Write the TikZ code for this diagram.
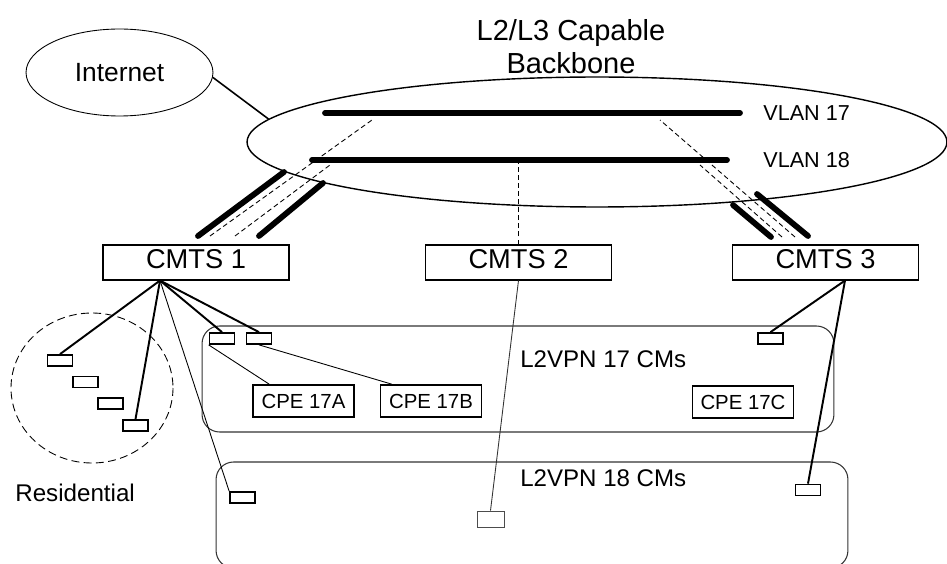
\documentclass[tikz,border=0pt]{standalone}
\usepackage{fontspec}
\setmainfont{Liberation Sans}
\usetikzlibrary{shapes.geometric}

\begin{document}
\begin{tikzpicture}[x=0.02cm, y=-0.02cm,
  cmts/.style={draw, line width=0.6pt, minimum width=3.72cm, minimum height=0.7cm,
    inner sep=0pt, text depth=4pt, font=\fontsize{15.5}{18}\selectfont},
  modem/.style={draw, line width=1pt, minimum width=0.5cm, minimum height=0.22cm, inner sep=0pt},
  cpe/.style={draw, line width=1pt, minimum width=2.02cm, minimum height=0.64cm,
    inner sep=0pt, font=\fontsize{11.6}{14}\selectfont},
  vpnbox/.style={draw=black!80, line width=0.6pt, rounded corners=0.35cm,
    minimum width=12.64cm, inner sep=0pt},
  lbl/.style={anchor=west, inner sep=0pt},
  vlan/.style={line width=3.3pt, line cap=round},
  trunk/.style={line width=3.3pt, line cap=round},
  tagged/.style={line width=0.5pt, dash pattern=on 2.8pt off 1.8pt},
  feed/.style={line width=1.1pt},
  thinfeed/.style={line width=0.5pt}]
  \useasboundingbox (0,0) rectangle (947,564);

  % Backbone
  \node[ellipse, draw, line width=0.8pt, minimum width=14cm, minimum height=2.6cm] (bb) at (597,142) {};
  \node[anchor=north, align=center, inner sep=0pt, font=\fontsize{16.5}{19}\selectfont] (title) at (571,19)
    {L2/L3 Capable\\Backbone};
  \node[ellipse, draw, line width=0.5pt, minimum width=3.74cm, minimum height=1.74cm,
    font=\fontsize{15}{18}\selectfont] (inet) at (119.5,72.5) {Internet};
  \draw[line width=0.9pt] (inet.-3) -- (bb.176);

  % VLANs
  \coordinate (v17w) at (325,113);
  \coordinate (v17e) at (740,113);
  \coordinate (v18w) at (312,160);
  \coordinate (v18e) at (727,160);
  \draw[vlan] (v17w) -- (v17e);
  \draw[vlan] (v18w) -- (v18e);
  \node[lbl, font=\fontsize{12.3}{14}\selectfont] (l17) at (763,113) {VLAN 17};
  \node[lbl, font=\fontsize{12.3}{14}\selectfont] (l18) at (763,160) {VLAN 18};

  % CMTS
  \node[cmts] (cmts1) at (196,262.5) {CMTS 1};
  \node[cmts] (cmts2) at (518.5,262.5) {CMTS 2};
  \node[cmts] (cmts3) at (825.5,262.5) {CMTS 3};
  \coordinate (fan1) at ([xshift=-0.72cm]cmts1.south);
  \coordinate (fan3) at ([xshift=0.39cm]cmts3.south);

  % Trunks to the backbone
  \coordinate (t1a) at (198,236); \coordinate (t1b) at (284,172);
  \coordinate (t2a) at (259,236); \coordinate (t2b) at (323,183);
  \coordinate (d1a) at (210,236); \coordinate (d1b) at (372,120);
  \coordinate (d2a) at (235,236); \coordinate (d2b) at (330,165);
  \coordinate (t3a) at (771,237); \coordinate (t3b) at (733,205);
  \coordinate (t4a) at (808,236); \coordinate (t4b) at (757,194);
  \coordinate (d3a) at (795,237); \coordinate (d3b) at (660,120);
  \coordinate (d4a) at (782,237); \coordinate (d4b) at (700,165);
  \draw[trunk] (t1a) -- (t1b);
  \draw[trunk] (t2a) -- (t2b);
  \draw[trunk] (t3a) -- (t3b);
  \draw[trunk] (t4a) -- (t4b);
  \draw[tagged] (d1a) -- (d1b);
  \draw[tagged] (d2a) -- (d2b);
  \draw[tagged] (d3a) -- (d3b);
  \draw[tagged] (d4a) -- (d4b);
  \draw[tagged] (cmts2.north) -- (cmts2.north |- v18w);

  % L2VPN groups
  \node[vpnbox, minimum height=2.12cm] (vpn17) at (518,379) {};
  \node[vpnbox, minimum height=2.12cm] (vpn18) at (532,515) {};
  \node[lbl, font=\fontsize{13.7}{16}\selectfont] (vpn17t) at (520,359) {L2VPN 17 CMs};
  \node[lbl, font=\fontsize{13.7}{16}\selectfont] (vpn18t) at (520,478) {L2VPN 18 CMs};

  % Residential
  \draw[line width=0.5pt, dash pattern=on 4.5pt off 2.5pt] (92,388) ellipse [x radius=81, y radius=75];
  \node[lbl, font=\fontsize{13.75}{16}\selectfont] (res) at (15,493) {Residential};
  \node[modem] (r1) at (60,360.5) {};
  \node[modem] (r2) at (85.5,382) {};
  \node[modem] (r3) at (110.5,403.5) {};
  \node[modem] (r4) at (135.5,425.5) {};

  % Cable modems and CPEs
  \node[modem] (c17a) at (222,338.5) {};
  \node[modem] (c17b) at (259,338.5) {};
  \node[modem] (c17c) at (770.5,338.5) {};
  \node[modem] (c18a) at (242.5,497.5) {};
  \node[modem, draw=black!70, line width=0.5pt, minimum width=0.54cm, minimum height=0.32cm] (c18b) at (490.5,519) {};
  \node[modem] (c18c) at (808,490) {};
  \node[cpe] (cpe17a) at (303.5,401) {CPE 17A};
  \node[cpe] (cpe17b) at (431,401) {CPE 17B};
  \node[cpe] (cpe17c) at (743,402) {CPE 17C};

  % Feeds
  \draw[feed] (fan1) -- (r1.north);
  \draw[feed] (fan1) -- (r4.north);
  \draw[feed] (fan1) -- (c17a.north);
  \draw[feed] (fan1) -- (c17b.north);
  \draw[thinfeed] (fan1) -- (c18a.north west);
  \draw[thinfeed] (c17a.south west) -- ([xshift=0.34cm]cpe17a.north west);
  \draw[thinfeed] (c17b.south) -- ([xshift=0.24cm]cpe17b.north west);
  \draw[thinfeed, draw=black!80] (cmts2.south) -- (c18b.north);
  \draw[feed] (fan3) -- (c17c.north);
  \draw[feed] (fan3) -- (c18c.north);
\end{tikzpicture}
\end{document}
